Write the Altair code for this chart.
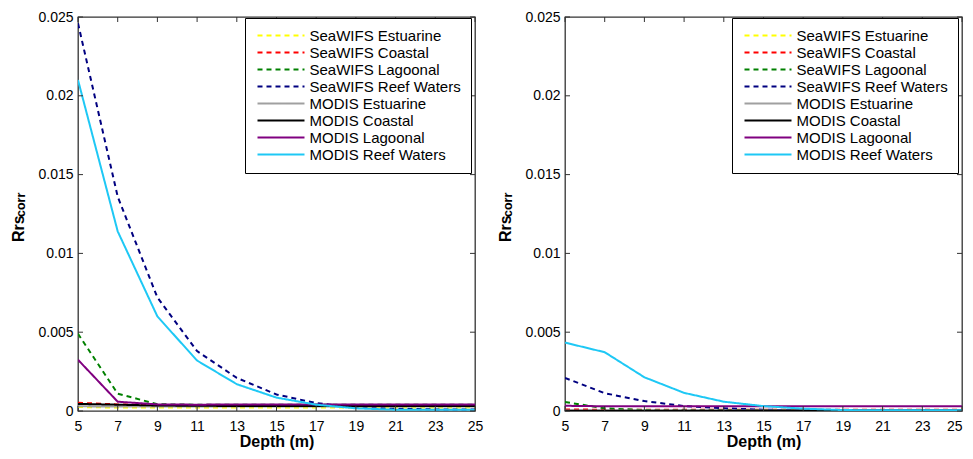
import altair as alt
import pandas as pd

FONT = "Liberation Sans"

depth = [5, 7, 9, 11, 13, 15, 17, 19, 21, 23, 25]
series = [
    "SeaWIFS Estuarine", "SeaWIFS Coastal", "SeaWIFS Lagoonal", "SeaWIFS Reef Waters",
    "MODIS Estuarine", "MODIS Coastal", "MODIS Lagoonal", "MODIS Reef Waters",
]
colors = ["#ffff00", "#ff0000", "#008000", "#000080", "#a0a0a0", "#000000", "#800080", "#1ec8f5"]
dashes = [[5, 4]] * 4 + [[1, 0]] * 4

x_ticks = [5, 7, 9, 11, 13, 15, 17, 19, 21, 23, 25]
y_ticks = [0, 0.005, 0.01, 0.015, 0.02, 0.025]

# Left panel values
left_sw_estuarine = [0.00025, 0.00022, 0.00022, 0.00022, 0.00022, 0.00022, 0.00022, 0.00022, 0.00022, 0.00022, 0.00022]
left_sw_coastal = [0.00052, 0.00042, 0.00038, 0.00036, 0.00035, 0.00035, 0.00034, 0.00034, 0.00034, 0.00034, 0.00034]
left_sw_lagoonal = [0.0049, 0.00110, 0.00043, 0.0004, 0.0004, 0.0004, 0.0004, 0.0004, 0.0004, 0.0004, 0.0004]
left_sw_reef = [0.0246, 0.0136, 0.0072, 0.0038, 0.0021, 0.00105, 0.0005, 0.00025, 0.00015, 0.0001, 0.0001]
left_mo_estuarine = [0.00030, 0.00028, 0.00028, 0.00028, 0.00028, 0.00028, 0.00028, 0.00028, 0.00028, 0.00028, 0.00028]
left_mo_coastal = [0.00045, 0.00040, 0.00035, 0.00033, 0.00032, 0.00032, 0.00032, 0.00032, 0.00032, 0.00032, 0.00032]
left_mo_lagoonal = [0.00325, 0.00059, 0.00042, 0.0004, 0.00042, 0.00042, 0.00042, 0.00042, 0.00042, 0.00042, 0.00042]
left_mo_reef = [0.0210, 0.0114, 0.0060, 0.0032, 0.0017, 0.00085, 0.0004, 0.00017, 0.00008, 0.00008, 0.00008]

# Right panel values
right_sw_estuarine = [0.00005, 0.00005, 0.00005, 0.00005, 0.00005, 0.00005, 0.00005, 0.00005, 0.00005, 0.00005, 0.00005]
right_sw_coastal = [0.00010, 0.00008, 0.00008, 0.00008, 0.00008, 0.00008, 0.00008, 0.00008, 0.00008, 0.00008, 0.00008]
right_sw_lagoonal = [0.00057, 0.00017, 0.00006, 0.00004, 0.00004, 0.00004, 0.00004, 0.00004, 0.00004, 0.00004, 0.00004]
right_sw_reef = [0.0021, 0.00113, 0.00063, 0.00031, 0.00017, 0.00008, 0.00005, 0.00004, 0.00004, 0.00004, 0.00004]
right_mo_estuarine = [0.00003, 0.00003, 0.00003, 0.00003, 0.00003, 0.00003, 0.00003, 0.00003, 0.00003, 0.00003, 0.00003]
right_mo_coastal = [0.00002, 0.00002, 0.00002, 0.00002, 0.00002, 0.00002, 0.00002, 0.00002, 0.00002, 0.00002, 0.00002]
right_mo_lagoonal = [0.00033, 0.0003, 0.0003, 0.0003, 0.0003, 0.0003, 0.0003, 0.0003, 0.0003, 0.0003, 0.0003]
right_mo_reef = [0.00434, 0.00373, 0.00214, 0.00115, 0.00059, 0.00031, 0.00015, 0.00006, 0.00004, 0.00004, 0.00004]

left_values = [left_sw_estuarine, left_sw_coastal, left_sw_lagoonal, left_sw_reef,
               left_mo_estuarine, left_mo_coastal, left_mo_lagoonal, left_mo_reef]
right_values = [right_sw_estuarine, right_sw_coastal, right_sw_lagoonal, right_sw_reef,
                right_mo_estuarine, right_mo_coastal, right_mo_lagoonal, right_mo_reef]

W, H = 397, 394
TICK = 5


def panel(values, last_label_right=False):
    rows = []
    for name, vals in zip(series, values):
        for d, v in zip(depth, vals):
            rows.append({"depth": d, "value": v, "series": name})
    df = pd.DataFrame(rows)

    x_kw = dict(values=x_ticks, title="Depth (m)", ticks=False, domain=False, grid=False,
                labelFlush=False, labelPadding=8, titlePadding=0, labelFontSize=14,
                titleFontSize=16, titleFontWeight="bold", labelColor="black", titleColor="black")
    if last_label_right:
        x_kw["labelAlign"] = {"condition": {"test": "datum.value == 25", "value": "right"},
                              "value": "center"}
    x_axis = alt.Axis(**x_kw)
    y_axis = alt.Axis(values=y_ticks, title=None, labelExpr="'' + datum.value", ticks=False,
                      domain=False, grid=False, labelPadding=5, labelFontSize=14, labelColor="black")
    x_scale = alt.Scale(domain=[5, 25], nice=False, zero=False)
    y_scale = alt.Scale(domain=[0, 0.025], nice=False)

    leg = alt.Legend(title=None, orient="none", legendX=167, legendY=1,
                     strokeColor="black", fillColor="white", padding=10,
                     labelFontSize=15, labelColor="black", labelFont=FONT,
                     symbolType="M-4.7,0H4.7", symbolSize=100, symbolStrokeWidth=2,
                     symbolOffset=18.5, labelOffset=21, rowPadding=1, labelLimit=300)

    lines = alt.Chart(df).mark_line(strokeWidth=2, clip=True).encode(
        x=alt.X("depth:Q", scale=x_scale, axis=x_axis),
        y=alt.Y("value:Q", scale=y_scale, axis=y_axis),
        color=alt.Color("series:N", scale=alt.Scale(domain=series, range=colors), legend=leg),
        strokeDash=alt.StrokeDash("series:N", scale=alt.Scale(domain=series, range=dashes), legend=leg),
    )

    xt = pd.DataFrame({"depth": x_ticks})
    yt = pd.DataFrame({"value": y_ticks})
    tick_color = "#333333"
    bottom = alt.Chart(xt).mark_rule(color=tick_color).encode(
        x=alt.X("depth:Q", scale=x_scale, axis=x_axis), y=alt.value(H), y2=alt.value(H - TICK))
    top = alt.Chart(xt).mark_rule(color=tick_color).encode(
        x=alt.X("depth:Q", scale=x_scale, axis=x_axis), y=alt.value(0), y2=alt.value(TICK))
    leftt = alt.Chart(yt).mark_rule(color=tick_color).encode(
        y=alt.Y("value:Q", scale=y_scale, axis=y_axis), x=alt.value(0), x2=alt.value(TICK))
    rightt = alt.Chart(yt).mark_rule(color=tick_color).encode(
        y=alt.Y("value:Q", scale=y_scale, axis=y_axis), x=alt.value(W), x2=alt.value(W - TICK))

    tdf = pd.DataFrame({"t": ["Rrs"]})
    rrs = alt.Chart(tdf).mark_text(text="Rrs", angle=270, align="left", baseline="alphabetic",
                                   fontSize=16, fontWeight="bold", font=FONT, color="black").encode(
        x=alt.value(-54.5), y=alt.value(225))
    corr = alt.Chart(tdf).mark_text(text="corr", angle=270, align="left", baseline="alphabetic",
                                    fontSize=12.5, fontWeight="bold", font=FONT, color="black").encode(
        x=alt.value(-53.5), y=alt.value(200))

    return alt.layer(lines, bottom, top, leftt, rightt, rrs, corr).properties(width=W, height=H)


chart = alt.hconcat(panel(left_values), panel(right_values, last_label_right=True), spacing=12).resolve_scale(
    color="independent", strokeDash="independent"
).properties(
    padding={"left": 1, "top": 1, "right": 0, "bottom": 1}
).configure(font=FONT).configure_view(stroke="#333333", strokeWidth=1.3)

chart.save("out.html", embed_options={"renderer": "svg", "actions": False})
